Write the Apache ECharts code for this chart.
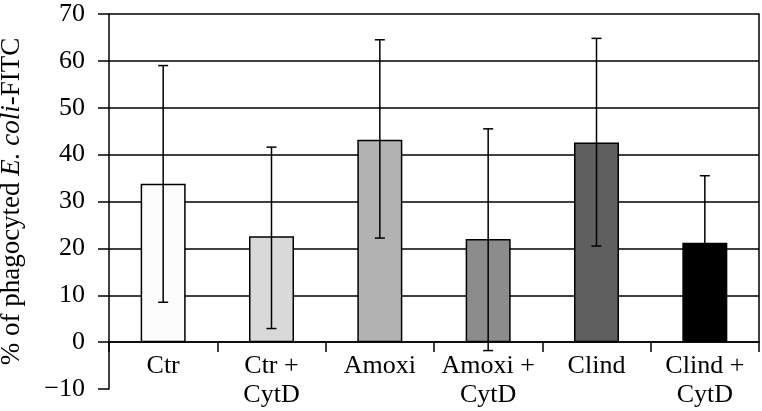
<!DOCTYPE html>
<html>
<head>
<meta charset="utf-8">
<script src="https://cdn.jsdelivr.net/npm/echarts@6/dist/echarts.min.js"></script>
<style>html,body{margin:0;padding:0;background:#fff}#c{width:762px;height:411px}</style>
</head>
<body>
<div id="c"></div>
<script>
var categories = ['Ctr', 'Ctr +\nCytD', 'Amoxi', 'Amoxi +\nCytD', 'Clind', 'Clind +\nCytD'];
var means = [33.8, 22.6, 43.2, 22.0, 42.6, 21.2];
var errLow = [8.5, 2.9, 22.2, -1.8, 20.5, 6.9];
var errHigh = [59.0, 41.6, 64.5, 45.5, 64.8, 35.5];
var barColors = ['#fcfcfc', '#d9d9d9', '#b2b2b2', '#8c8c8c', '#5f5f5f', '#000000'];
var yTicks = { min: -10, max: 70, interval: 10 };

var FONT = '"Liberation Serif", "DejaVu Serif", serif';
var chart = echarts.init(document.getElementById('c'));
chart.setOption({
  animation: false,
  grid: [
    { left: 109, right: 3, top: 14, bottom: 22, containLabel: false, outerBoundsMode: 'none' },
    { left: 109, right: 3, top: 14, bottom: 69, containLabel: false, outerBoundsMode: 'none' }
  ],
  xAxis: [{
    type: 'category', data: categories, gridIndex: 0,
    axisLine: { show: false }, axisTick: { show: false }, axisLabel: { show: false }
  }, {
    type: 'category', data: categories, gridIndex: 1,
    axisLine: { show: true, onZero: false, lineStyle: { color: '#000', width: 1.5 } },
    axisTick: { show: true, length: 10, alignWithLabel: false, lineStyle: { color: '#000', width: 1.5 } },
    axisLabel: { color: '#000', fontFamily: FONT, fontSize: 26, lineHeight: 29, margin: 10, interval: 0 }
  }],
  yAxis: [{
    type: 'value', gridIndex: 0, min: yTicks.min, max: yTicks.max, interval: yTicks.interval,
    axisLine: { show: true, onZero: false, lineStyle: { color: '#000', width: 1.5 } },
    axisTick: { show: true, length: 11, lineStyle: { color: '#000', width: 1.5 } },
    axisLabel: { color: '#000', fontFamily: FONT, fontSize: 26, margin: 24,
      formatter: function (v) { return String(v).replace('-', '\u2212'); } },
    splitLine: { show: true, showMinLine: false, lineStyle: { color: '#000', width: 1.5 } },
    name: '{a|% of phagocyted }{b|E. coli}{a|-FITC}',
    nameLocation: 'middle', nameRotate: 90, nameGap: 84,
    nameTextStyle: {
      rich: {
        a: { fontFamily: FONT, fontSize: 27, color: '#000' },
        b: { fontFamily: FONT, fontSize: 27, color: '#000', fontStyle: 'italic' }
      }
    }
  }, {
    type: 'value', gridIndex: 1, position: 'right', min: 0, max: 70,
    axisLine: { show: true, lineStyle: { color: '#000', width: 1.5 } },
    axisTick: { show: false }, axisLabel: { show: false }, splitLine: { show: false }
  }],
  series: [{
    type: 'bar', xAxisIndex: 0, yAxisIndex: 0, barWidth: 45,
    data: means.map(function (v, i) {
      return { value: v, itemStyle: { color: barColors[i], borderColor: '#000', borderWidth: 1.5 } };
    }),
    z: 2
  }, {
    type: 'custom', xAxisIndex: 0, yAxisIndex: 0, z: 3,
    data: categories.map(function (c, i) { return [i, errLow[i], errHigh[i]]; }),
    renderItem: function (params, api) {
      var lo = api.coord([api.value(0), api.value(1)]);
      var hi = api.coord([api.value(0), api.value(2)]);
      var hw = 5;
      var st = { stroke: '#000', lineWidth: 1.5 };
      return { type: 'group', children: [
        { type: 'line', shape: { x1: hi[0], y1: hi[1], x2: lo[0], y2: lo[1] }, style: st },
        { type: 'line', shape: { x1: hi[0] - hw, y1: hi[1], x2: hi[0] + hw, y2: hi[1] }, style: st },
        { type: 'line', shape: { x1: lo[0] - hw, y1: lo[1], x2: lo[0] + hw, y2: lo[1] }, style: st }
      ] };
    }
  }]
});
</script>
</body>
</html>
